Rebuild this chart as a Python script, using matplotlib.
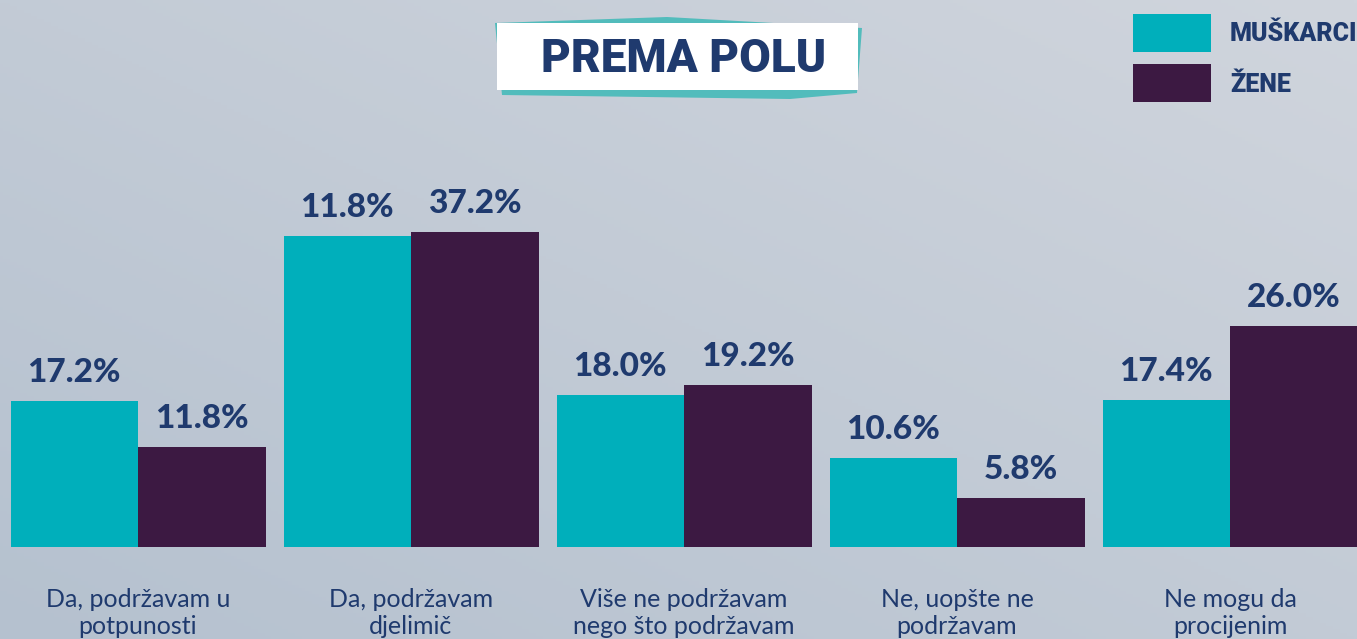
import matplotlib.pyplot as plt
import matplotlib.patches as mpatches
import numpy as np

categories = ["Da, podržavam u\npotpunosti", "Da, podržavam\ndjelimič",
              "Više ne podržavam\nnego što podržavam", "Ne, uopšte ne\npodržavam",
              "Ne mogu da\nprocijenim"]
muskarci = [17.2, 36.8, 18.0, 10.5, 17.4]
zene = [11.8, 37.2, 19.1, 5.8, 26.1]
muskarci_labels = ["17.2%", "11.8%", "18.0%", "10.6%", "17.4%"]
zene_labels = ["11.8%", "37.2%", "19.2%", "5.8%", "26.0%"]

TEAL = "#00afbb"
PURPLE = "#3c1942"
NAVY = "#1f3a6e"
W, H = 1357, 639

fig = plt.figure(figsize=(W / 100, H / 100), dpi=100)

# background gradient (lighter top-right, darker bottom-left)
bg = fig.add_axes([0, 0, 1, 1])
yy, xx = np.mgrid[0:1:200j, 0:1:400j]
t = (xx * 0.5 + yy * 0.5)
c0 = np.array([0xb5, 0xc1, 0xcf]) / 255
c1 = np.array([0xd0, 0xd5, 0xdd]) / 255
img = c0[None, None, :] * (1 - t[..., None]) + c1[None, None, :] * t[..., None]
bg.imshow(img, origin="lower", aspect="auto", extent=[0, 1, 0, 1])
bg.set_axis_off()

ax = fig.add_axes([0, (H - 547) / H, 1, 547 / H])
ax.patch.set_alpha(0)
x = np.arange(len(categories))
bw = 127.5 / 273
ax.bar(x - bw / 2, muskarci, bw, color=TEAL)
ax.bar(x + bw / 2, zene, bw, color=PURPLE)
ax.set_xlim(-138 / 273, (W - 138) / 273)
ax.set_ylim(0, 547 / 8.46)
ax.set_axis_off()

off = 19 / 8.46
for i in range(len(categories)):
    ax.text(x[i] - bw / 2, muskarci[i] + off, muskarci_labels[i], ha="center", va="baseline",
            fontsize=24, fontweight="black", family="Lato", color=NAVY)
    ax.text(x[i] + bw / 2, zene[i] + off, zene_labels[i], ha="center", va="baseline",
            fontsize=24, fontweight="black", family="Lato", color=NAVY)
    ax.text(x[i], -41 / 8.46, categories[i], ha="center", va="top",
            fontsize=18, fontweight="normal", family="Lato", color=NAVY,
            linespacing=1.2, clip_on=False)

# title box
def fpt(px, py):
    return (px / W, 1 - py / H)

shadow = [fpt(495, 23), fpt(667, 17), fpt(862, 28), fpt(857, 93), fpt(790, 99), fpt(502, 95)]
fig.patches.append(mpatches.Polygon(shadow, closed=True, transform=fig.transFigure,
                                    facecolor="#52bcbc", edgecolor="none"))
x0, y0 = fpt(497, 90)
fig.patches.append(mpatches.Rectangle((x0, y0), (858 - 497) / W, (90 - 23) / H,
                                      transform=fig.transFigure, facecolor="white",
                                      edgecolor="none"))
fig.text(*fpt(684, 59), "PREMA POLU", ha="center", va="center", fontsize=33,
         fontweight="black", family="Roboto", color=NAVY)

# legend
fig.patches.append(mpatches.Rectangle(fpt(1133, 52), 78 / W, 38 / H,
                                      transform=fig.transFigure, facecolor=TEAL))
fig.patches.append(mpatches.Rectangle(fpt(1133, 102), 78 / W, 38 / H,
                                      transform=fig.transFigure, facecolor=PURPLE))
fig.text(*fpt(1230, 34), "MUŠKARCI", ha="left", va="center", fontsize=18,
         fontweight="black", family="Roboto", color=NAVY)
fig.text(*fpt(1230, 85), "ŽENE", ha="left", va="center", fontsize=18,
         fontweight="black", family="Roboto", color=NAVY)

fig.savefig("out.png", dpi=100)
